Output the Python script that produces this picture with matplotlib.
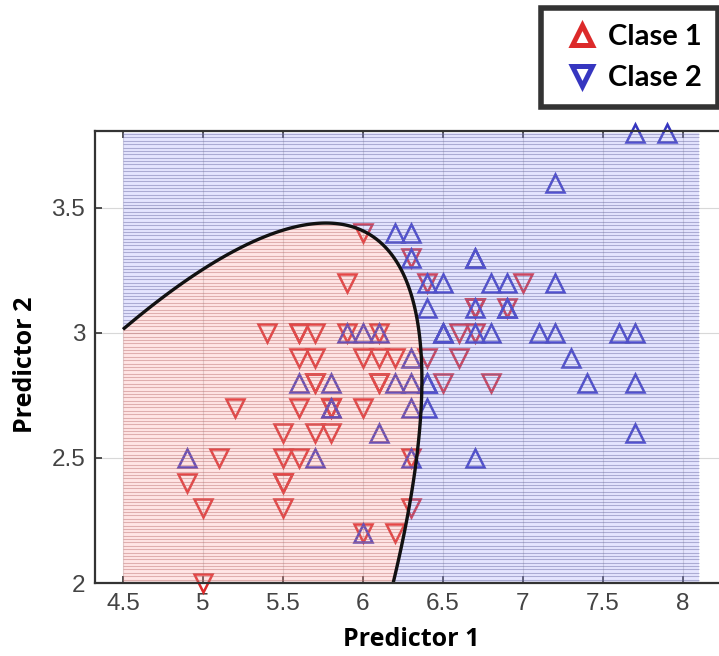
import numpy as np
import matplotlib
matplotlib.use("Agg")
import matplotlib.pyplot as plt
from matplotlib.collections import LineCollection
from matplotlib.lines import Line2D

# Sepal length / sepal width of the two classes
clase1_x = [7.0, 6.4, 6.9, 5.5, 6.5, 5.7, 6.3, 4.9, 6.6, 5.2, 5.0, 5.9, 6.0, 6.1, 5.6,
            6.7, 5.6, 5.8, 6.2, 5.6, 5.9, 6.1, 6.3, 6.1, 6.4, 6.6, 6.8, 6.7, 6.0, 5.7,
            5.5, 5.5, 5.8, 6.0, 5.4, 6.0, 6.7, 6.3, 5.6, 5.5, 5.5, 6.1, 5.8, 5.0, 5.6,
            5.7, 5.7, 6.2, 5.1, 5.7]
clase1_y = [3.2, 3.2, 3.1, 2.3, 2.8, 2.8, 3.3, 2.4, 2.9, 2.7, 2.0, 3.0, 2.2, 2.9, 2.9,
            3.1, 3.0, 2.7, 2.2, 2.5, 3.2, 2.8, 2.5, 2.8, 2.9, 3.0, 2.8, 3.0, 2.9, 2.6,
            2.4, 2.4, 2.7, 2.7, 3.0, 3.4, 3.1, 2.3, 3.0, 2.5, 2.6, 3.0, 2.6, 2.3, 2.7,
            3.0, 2.9, 2.9, 2.5, 2.8]
clase2_x = [6.3, 5.8, 7.1, 6.3, 6.5, 7.6, 4.9, 7.3, 6.7, 7.2, 6.5, 6.4, 6.8, 5.7, 5.8,
            6.4, 6.5, 7.7, 7.7, 6.0, 6.9, 5.6, 7.7, 6.3, 6.7, 7.2, 6.2, 6.1, 6.4, 7.2,
            7.4, 7.9, 6.4, 6.3, 6.1, 7.7, 6.3, 6.4, 6.0, 6.9, 6.7, 6.9, 5.8, 6.8, 6.7,
            6.7, 6.3, 6.5, 6.2, 5.9]
clase2_y = [3.3, 2.7, 3.0, 2.9, 3.0, 3.0, 2.5, 2.9, 2.5, 3.6, 3.2, 2.7, 3.0, 2.5, 2.8,
            3.2, 3.0, 3.8, 2.6, 2.2, 3.2, 2.8, 2.8, 2.7, 3.3, 3.2, 2.8, 3.0, 2.8, 3.0,
            2.8, 3.8, 2.8, 2.8, 2.6, 3.0, 3.4, 3.1, 3.0, 3.1, 3.1, 3.1, 2.7, 3.2, 3.3,
            3.0, 2.5, 3.0, 3.4, 3.0]

legend_labels = ["Clase 1", "Clase 2"]
x_ticks = [4.5, 5, 5.5, 6, 6.5, 7, 7.5, 8]
y_ticks = [2, 2.5, 3, 3.5]

RED = "#dc2a2a"
BLUE = "#3636c0"


def qda_score(X1, Y1, px, py):
    pts = np.column_stack([X1, Y1])
    mu = pts.mean(axis=0)
    cov = np.cov(pts, rowvar=False)
    inv = np.linalg.inv(cov)
    dx = px - mu[0]
    dy = py - mu[1]
    q = inv[0, 0] * dx * dx + 2 * inv[0, 1] * dx * dy + inv[1, 1] * dy * dy
    return -0.5 * np.log(np.linalg.det(cov)) - 0.5 * q


W, H = 719, 656
fig = plt.figure(figsize=(W / 100, H / 100), dpi=100)
ax = fig.add_axes([95 / W, 1 - 583 / H, (731 - 95) / W, (583 - 131) / H])
ax.set_xlim(4.325, 8.3)
ax.set_ylim(2.0, 3.808)

# classification surface
gx = np.linspace(4.5, 8.1, 721)
gy = np.linspace(2.0, 3.8, 361)
GX, GY = np.meshgrid(gx, gy)
D = qda_score(clase1_x, clase1_y, GX, GY) - qda_score(clase2_x, clase2_y, GX, GY)

ax.set_axisbelow(True)
ax.grid(True, color="#d8d8d8", lw=0.8)

# observations (under the translucent region fill)
ax.plot(clase1_x, clase1_y, ls="none", marker="v", ms=12.5, mfc="none", mec=RED,
        mew=1.8, zorder=2, clip_on=False)
ax.plot(clase2_x, clase2_y, ls="none", marker="^", ms=12.5, mfc="none", mec=BLUE,
        mew=1.8, zorder=2, clip_on=False)

ax.contourf(GX, GY, D, levels=[D.min() - 1, 0, D.max() + 1],
            colors=["#9c9cff", "#ff9c9c"], alpha=0.26, zorder=3)

# horizontal scan lines of the predicted region
fx = np.linspace(4.5, 8.1, 1801)
segs, cols = [], []
for yv in np.arange(2.0, 3.8 + 1e-9, 0.0135):
    cls = (qda_score(clase1_x, clase1_y, fx, yv) - qda_score(clase2_x, clase2_y, fx, yv)) > 0
    edges = np.flatnonzero(np.diff(cls.astype(int))) + 1
    starts = np.r_[0, edges]
    ends = np.r_[edges, len(fx)] - 1
    for s, e in zip(starts, ends):
        segs.append([(fx[s], yv), (fx[e], yv)])
        cols.append((0.72, 0.42, 0.42, 0.45) if cls[s] else (0.40, 0.40, 0.62, 0.45))
ax.add_collection(LineCollection(segs, colors=cols, linewidths=0.8, zorder=3.5))

ax.contour(GX, GY, D, levels=[0], colors="#111111", linewidths=2.4, zorder=5)

ax.set_xticks(x_ticks)
ax.set_xticklabels([f"{t:g}" for t in x_ticks])
ax.set_yticks(y_ticks)
ax.set_yticklabels([f"{t:g}" for t in y_ticks])
ax.tick_params(direction="in", top=True, right=True, length=5, width=1.2,
               color="#333333", labelcolor="#444444", labelsize=17.5, pad=7)
for lab in ax.get_xticklabels() + ax.get_yticklabels():
    lab.set_family(["Liberation Sans", "DejaVu Sans"])
for sp in ax.spines.values():
    sp.set_color("#333333")
    sp.set_linewidth(1.6)
    sp.set_zorder(6)

fig.text(411 / W, 1 - 640 / H, "Predictor 1", ha="center", va="center",
         fontsize=18, fontweight="bold", family="Open Sans")
fig.text(26 / W, 1 - 365 / H, "Predictor 2", ha="center", va="center",
         rotation=90, fontsize=18, fontweight="bold", family="Open Sans")

handles = [Line2D([], [], ls="none", marker="^", ms=15, mfc="white", mec=RED, mew=3.6),
           Line2D([], [], ls="none", marker="v", ms=15, mfc="white", mec=BLUE, mew=3.6)]
leg = fig.legend(handles, legend_labels, loc="upper right",
                 bbox_to_anchor=(718 / W, 1 - 8 / H), frameon=True, fancybox=False,
                 prop={"family": "Lato", "weight": "bold", "size": 21},
                 handletextpad=0.05, borderpad=0.55, labelspacing=0.52,
                 handlelength=1.7, borderaxespad=0)
leg.get_frame().set_edgecolor("black")
leg.get_frame().set_linewidth(4)

fig.savefig("out.png", dpi=100)
